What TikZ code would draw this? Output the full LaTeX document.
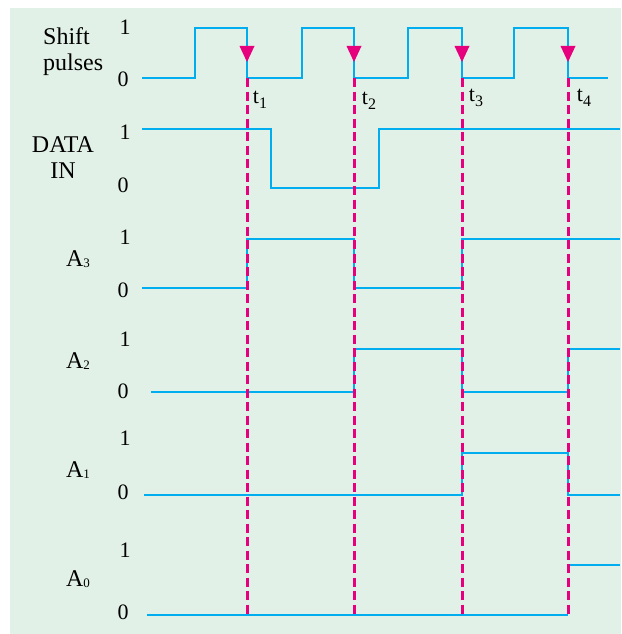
\documentclass[tikz,border=0pt]{standalone}
\usepackage{fontspec}
\setmainfont{Liberation Serif}
\usetikzlibrary{arrows.meta}
\definecolor{bgpanel}{HTML}{E2F1E7}
\definecolor{sigblue}{HTML}{00AEEF}
\definecolor{clkmark}{HTML}{E6007E}
\tikzset{
  wave/.style={draw=sigblue,line width=2.2pt,line join=miter},
  tmark/.style={draw=clkmark,line width=3pt,dash pattern=on 9pt off 4.5pt},
  pulsetip/.style={fill=clkmark},
  signame/.style={font=\fontsize{24}{26}\selectfont,align=center,inner sep=0pt},
  lvl/.style={font=\fontsize{22}{24}\selectfont,inner sep=0pt},
  tlbl/.style={font=\fontsize{22}{24}\selectfont,inner sep=0pt}
}
\newcommand{\lowsub}[1]{\raisebox{-1pt}{\fontsize{13}{13}\selectfont #1}}
\newcommand{\tsub}[1]{\raisebox{-5pt}{\fontsize{16}{16}\selectfont #1}}

\begin{document}
\begin{tikzpicture}[x=1pt,y=-1pt]
  \useasboundingbox (0,0) rectangle (621,634);
  \fill[white] (0,0) rectangle (621,634);
  \fill[bgpanel] (10,8) rectangle (621,634);

  % signal names
  \node[signame,align=left,anchor=west] (clk) at (43,52) {Shift\\pulses};
  \node[signame] (din) at (63,158) {DATA\\IN};
  \node[signame] (a3) at (78,259) {A\lowsub{3}};
  \node[signame] (a2) at (78,361) {A\lowsub{2}};
  \node[signame] (a1) at (78,470) {A\lowsub{1}};
  \node[signame] (a0) at (78,579) {A\lowsub{0}};

  % logic levels
  \foreach \s/\hi/\lo in {clk/27/79,din/132/185,a3/237/290,a2/339/391,a1/438/492,a0/550/612}{
    \node[lvl] (\s-one) at (125,\hi) {1};
    \node[lvl] (\s-zero) at (123,\lo) {0};
  }

  % waveforms
  \draw[wave] (142,78) -- (195,78) -- (195,28) -- (247,28) -- (247,78) -- (302,78)
    -- (302,28) -- (354,28) -- (354,78) -- (408,78) -- (408,28) -- (462,28)
    -- (462,78) -- (514,78) -- (514,28) -- (568,28) -- (568,78) -- (608,78);
  \draw[wave] (142,129) -- (271,129) -- (271,188) -- (379,188) -- (379,129) -- (620,129);
  \draw[wave] (142,288) -- (247,288) -- (247,239) -- (354,239) -- (354,288) -- (462,288)
    -- (462,239) -- (620,239);
  \draw[wave] (151,392) -- (354,392) -- (354,349) -- (462,349) -- (462,392) -- (568,392)
    -- (568,349) -- (620,349);
  \draw[wave] (144,495) -- (462,495) -- (462,453) -- (568,453) -- (568,495) -- (620,495);
  \draw[wave,line width=2.8pt] (147,615) -- (568,615);
  \draw[wave] (568,565) -- (620,565);

  % shift instants
  \foreach \x/\n/\tx/\ty in {247/1/260/100,354/2/369/101,462/3/476/98,568/4/584/98}{
    \draw[tmark] (\x,78) -- (\x,617);
    \fill[pulsetip] ({\x-7.5},46) -- ({\x+7.5},46) -- (\x,62) -- cycle;
    \node[tlbl] (t\n) at (\tx,\ty) {t\tsub{\n}};
  }
\end{tikzpicture}
\end{document}
